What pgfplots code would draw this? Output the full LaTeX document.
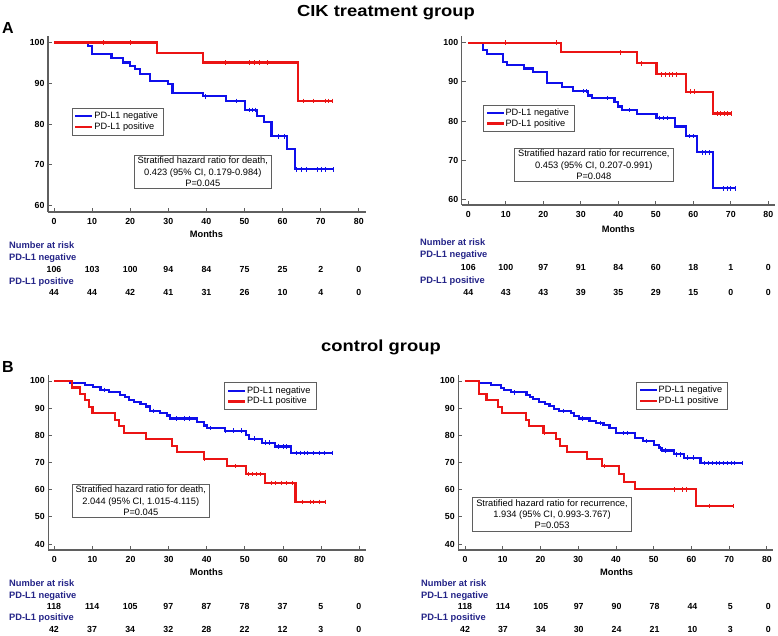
\documentclass[border=0pt]{standalone}
\usepackage{pgfplots}
\pgfplotsset{compat=1.18}
\usepackage{fontspec}
\setmainfont{Liberation Sans}
\definecolor{kmblue}{RGB}{15,15,235}
\definecolor{kmred}{RGB}{235,20,20}
\definecolor{navy}{RGB}{35,35,135}
\definecolor{axgray}{RGB}{95,95,95}
\pgfplotsset{
  km/.style={
    scale only axis, clip=false,
    axis x line*=bottom, axis y line*=left,
    axis line style={draw=axgray, line width=1.4pt},
    tick align=inside, major tick length=4pt,
    tick style={draw=axgray, line width=0.8pt},
    xtick={0,10,...,80},
    tick label style={font=\fontsize{8.8}{9}\selectfont\bfseries, /pgf/number format/assume math mode=true},
    xticklabel style={yshift=-2.5pt},
    legend cell align=left,
    legend style={draw=axgray, line width=0.6pt, font=\fontsize{9.2}{10}\selectfont, inner xsep=3.5pt, inner ysep=2pt, row sep=-1.5pt, anchor=north west, cells={anchor=west}},
  },
  kmneg/.style={const plot, draw=kmblue, line width=2.1pt, mark=none,
    legend image code/.code={\fill[fill=kmblue, draw=none] (0pt,-1.2pt) rectangle (17pt,1.2pt);}},
  kmpos/.style={const plot, draw=kmred, line width=2.1pt, mark=none,
    legend image code/.code={\fill[fill=kmred, draw=none] (0pt,-1.2pt) rectangle (17pt,1.2pt);}},
  cneg/.style={only marks, mark=|, mark size=2.2pt, kmblue, mark options={line width=0.7pt}, forget plot},
  cpos/.style={only marks, mark=|, mark size=2.2pt, kmred, mark options={line width=0.7pt}, forget plot},
}
\newcommand{\nrisk}[4]{%
  \foreach \v [count=\i from 0] in {#4} {\node[anchor=mid, inner sep=0pt, font=\fontsize{8.8}{9}\selectfont\bfseries] at ({#1+#2*\i}, #3) {\v};}%
}
\newcommand{\nartext}[3]{\node[anchor=mid west, inner sep=0pt, text=navy, font=\fontsize{9.3}{10}\selectfont\bfseries] at (#1,#2) {#3};}
\newcommand{\hrbox}[3]{\node[draw=axgray, line width=0.6pt, align=center, inner xsep=3.5pt, inner ysep=2pt, font=\fontsize{9.3}{11.3}\selectfont] at (#1,#2) {#3};}
\begin{document}
\begin{tikzpicture}[x=1pt,y=1pt]
\useasboundingbox (0,0) rectangle (778,636);
% titles
\node[font=\fontsize{16}{18}\selectfont\bfseries, xscale=1.15, anchor=base] at (386,636-17) {CIK treatment group};
\node[font=\fontsize{16}{18}\selectfont\bfseries, xscale=1.15, anchor=base] at (381,636-352) {control group};
\node[font=\fontsize{16}{18}\selectfont\bfseries, anchor=base west, inner sep=0pt] at (2,636-34) {A};
\node[font=\fontsize{16}{18}\selectfont\bfseries, anchor=base west, inner sep=0pt] at (2,636-373) {B};

% ---------------- Panel A left ----------------
\begin{axis}[km, at={(48pt,424pt)}, anchor=south west, width=318pt, height=176pt,
  xmin=-1.57, xmax=81.9, ymin=58.45, ymax=101.6, ytick={60,70,80,90,100},
  legend style={at={(axis cs:4.65,84.0)}}]
\addplot[kmneg] coordinates {(0,100)(9,99.1)(9.9,97.1)(15.1,96.1)(18,95.1)(20,94.3)(21.3,93.4)(22.6,92.2)(25.2,90.6)(30,89.9)(31.1,87.7)(39.2,86.8)(45.1,85.7)(50.1,83.5)(53.2,82.0)(55.1,80.6)(57.1,77.0)(61.1,74.0)(63.3,68.9)(73.2,68.9)};
\addlegendentry{PD-L1 negative}
\addplot[kmpos] coordinates {(0,100)(27.1,97.5)(39,95.1)(64.1,85.7)(73.1,85.7)};
\addlegendentry{PD-L1 positive}
\addplot[cneg] coordinates {(39.6,86.8)(47.9,85.7)(51.3,83.5)(52,83.5)(52.8,83.5)(59,77.0)(60.5,77.0)(63.7,68.9)(65,68.9)(66.3,68.9)(69,68.9)(70.1,68.9)(71.1,68.9)(73.2,68.9)};
\addplot[cpos] coordinates {(12.9,100)(20.1,100)(44.9,95.1)(51.4,95.1)(52.7,95.1)(54,95.1)(56,95.1)(65.4,85.7)(68,85.7)(71.1,85.7)(72,85.7)(73.1,85.7)};
\end{axis}
\hrbox{202.8}{636-171.8}{Stratified hazard ratio for death,\\0.423 (95\% CI, 0.179-0.984)\\P=0.045}
\node[font=\fontsize{9.3}{10}\selectfont\bfseries, anchor=mid] at (206.4,636-235) {Months};
\nartext{9}{636-246}{Number at risk}
\nartext{9}{636-257.7}{PD-L1 negative}
\nrisk{54}{38.1}{636-270}{106,103,100,94,84,75,25,2,0}
\nartext{9}{636-281.7}{PD-L1 positive}
\nrisk{54}{38.1}{636-293.3}{44,44,42,41,31,26,10,4,0}

% ---------------- Panel A right ----------------
\begin{axis}[km, at={(461.7pt,431pt)}, anchor=south west, width=313.3pt, height=169pt,
  xmin=-1.76, xmax=81.8, ymin=58.55, ymax=101.7, ytick={60,70,80,90,100},
  legend style={at={(axis cs:3.84,84.2)}}]
\addplot[kmneg] coordinates {(0,100)(4,98.1)(4.9,97.2)(9.2,95.0)(10.2,94.3)(14.9,93.4)(17.2,92.4)(20.9,89.6)(25,88.7)(28,87.6)(32,86.5)(33,85.8)(39,84.8)(40,83.7)(41,82.8)(45,81.8)(50.2,80.8)(55.1,78.6)(58,76.1)(61,72.0)(65.2,62.8)(71.1,62.8)};
\addlegendentry{PD-L1 negative}
\addplot[kmpos] coordinates {(0,100)(24.7,97.5)(44.9,94.7)(50.2,91.9)(58.1,87.5)(65.2,81.9)(70.1,81.9)};
\addlegendentry{PD-L1 positive}
\addplot[cneg] coordinates {(30.6,87.6)(31.5,87.6)(37,85.8)(43,82.8)(51,80.8)(52,80.8)(53,80.8)(59,76.1)(60,76.1)(62.5,72.0)(63.3,72.0)(64.2,72.0)(68,62.8)(69,62.8)(70,62.8)(71.1,62.8)};
\addplot[cpos] coordinates {(9.9,100)(23.4,100)(40.6,97.5)(46.2,94.7)(51.5,91.9)(52.5,91.9)(53.5,91.9)(54.5,91.9)(55.5,91.9)(59.3,87.5)(60.3,87.5)(66.3,81.9)(67.3,81.9)(68.3,81.9)(69.2,81.9)(70.1,81.9)};
\end{axis}
\hrbox{593.8}{636-164.7}{Stratified hazard ratio for recurrence,\\0.453 (95\% CI, 0.207-0.991)\\P=0.048}
\node[font=\fontsize{9.3}{10}\selectfont\bfseries, anchor=mid] at (618.3,636-230) {Months};
\nartext{420}{636-242.7}{Number at risk}
\nartext{420}{636-255}{PD-L1 negative}
\nrisk{468.3}{37.5}{636-268.3}{106,100,97,91,84,60,18,1,0}
\nartext{420}{636-280.7}{PD-L1 positive}
\nrisk{468.3}{37.5}{636-293.3}{44,43,43,39,35,29,15,0,0}

% ---------------- Panel B left ----------------
\begin{axis}[km, at={(48.3pt,86pt)}, anchor=south west, width=318pt, height=175pt,
  xmin=-1.6, xmax=81.9, ymin=37.8, ymax=102.2, ytick={40,50,60,70,80,90,100},
  legend style={at={(axis cs:44.6,99.5)}}]
\addplot[kmneg] coordinates {(0,100)(4.2,99.2)(8.1,98.5)(10.2,97.7)(12.1,96.7)(14.3,95.8)(17.3,95.0)(18.6,94.1)(19.7,93.1)(20.8,92.3)(22.6,91.4)(24.1,90.6)(25.2,89.0)(27.8,88.2)(29.6,87.3)(30.4,86.2)(37.4,84.8)(39.2,83.6)(40.1,82.6)(44.9,81.7)(50.4,80.1)(51,78.8)(54.5,77.3)(58,75.9)(62.1,73.6)(73.1,73.6)};
\addlegendentry{PD-L1 negative}
\addplot[kmpos] coordinates {(0,100)(4.6,97.6)(6.8,95.2)(8,92.9)(9,90.5)(10,88.1)(16,85.7)(16.9,83.3)(18.2,81.0)(24.1,78.6)(30.9,76.2)(32.2,73.8)(39.2,71.2)(45.3,68.6)(50.3,65.7)(55.2,62.4)(63.3,55.5)(71.1,55.5)};
\addlegendentry{PD-L1 positive}
\addplot[cneg] coordinates {(13,96.7)(26,89.0)(32,86.2)(34,86.2)(35.5,86.2)(41,82.6)(45,81.7)(47,81.7)(49,81.7)(52.5,78.8)(55.5,77.3)(56.5,77.3)(58.8,75.9)(60,75.9)(61,75.9)(63.5,73.6)(64.5,73.6)(65.5,73.6)(66.5,73.6)(68,73.6)(69.5,73.6)(71,73.6)(73.1,73.6)};
\addplot[cpos] coordinates {(39.5,71.2)(47.5,68.6)(51,65.7)(52,65.7)(53,65.7)(54,65.7)(57,62.4)(58,62.4)(59.5,62.4)(61,62.4)(62.5,62.4)(65,55.5)(67.2,55.5)(68,55.5)(69.5,55.5)(71.1,55.5)};
\end{axis}
\hrbox{140.8}{636-500.8}{Stratified hazard ratio for death,\\2.044 (95\% CI, 1.015-4.115)\\P=0.045}
\node[font=\fontsize{9.3}{10}\selectfont\bfseries, anchor=mid] at (206.4,636-573) {Months};
\nartext{9}{636-584}{Number at risk}
\nartext{9}{636-596}{PD-L1 negative}
\nrisk{54}{38.1}{636-607}{118,114,105,97,87,78,37,5,0}
\nartext{9}{636-618}{PD-L1 positive}
\nrisk{54}{38.1}{636-630}{42,37,34,32,28,22,12,3,0}

% ---------------- Panel B right ----------------
\begin{axis}[km, at={(458.3pt,86pt)}, anchor=south west, width=315pt, height=175pt,
  xmin=-1.77, xmax=81.7, ymin=37.8, ymax=102.2, ytick={40,50,60,70,80,90,100},
  legend style={at={(axis cs:45.3,99.7)}}]
\addplot[kmneg] coordinates {(0,100)(3.8,99.2)(7,98.4)(9.5,97.5)(10.4,96.7)(12.1,95.8)(16.3,95.0)(17.2,94.0)(18,93.2)(19.6,92.4)(21.1,91.5)(22.4,90.7)(23.7,89.8)(25,88.9)(28.1,88.1)(29,87.2)(30.2,86.2)(33,85.4)(34.7,84.5)(36.7,83.7)(38.3,82.8)(40,80.8)(45.1,79.0)(47.2,78.0)(50.1,76.5)(51.3,75.2)(52.3,74.4)(55.4,73.0)(58,71.8)(62.4,69.8)(73.4,69.8)};
\addlegendentry{PD-L1 negative}
\addplot[kmpos] coordinates {(0,100)(3.8,95.2)(5.7,92.9)(8.8,90.5)(9.9,88.1)(16.1,85.7)(17,83.3)(20.8,81.0)(24.2,78.6)(25.2,76.2)(27,73.8)(32.3,71.2)(36.2,68.7)(40.9,65.8)(42.2,62.9)(45.1,60.1)(61.1,54.1)(71.2,54.1)};
\addlegendentry{PD-L1 positive}
\addplot[cneg] coordinates {(13,95.8)(26,88.9)(31,86.2)(36,84.5)(42,80.8)(43,80.8)(48,78.0)(51.8,75.2)(53,74.4)(56,73.0)(57,73.0)(59,71.8)(60.5,71.8)(63.5,69.8)(64.5,69.8)(65.5,69.8)(66.5,69.8)(67.5,69.8)(68.5,69.8)(69.5,69.8)(70.5,69.8)(71.5,69.8)(73.4,69.8)};
\addplot[cpos] coordinates {(21.1,81.0)(36.9,68.7)(55.5,60.1)(57.5,60.1)(58.7,60.1)(64.8,54.1)(71.2,54.1)};
\end{axis}
\hrbox{552}{636-514.2}{Stratified hazard ratio for recurrence,\\1.934 (95\% CI, 0.993-3.767)\\P=0.053}
\node[font=\fontsize{9.3}{10}\selectfont\bfseries, anchor=mid] at (616.6,636-573) {Months};
\nartext{421}{636-584}{Number at risk}
\nartext{421}{636-596}{PD-L1 negative}
\nrisk{465}{37.9}{636-607}{118,114,105,97,90,78,44,5,0}
\nartext{421}{636-618}{PD-L1 positive}
\nrisk{465}{37.9}{636-630}{42,37,34,30,24,21,10,3,0}
\end{tikzpicture}
\end{document}
